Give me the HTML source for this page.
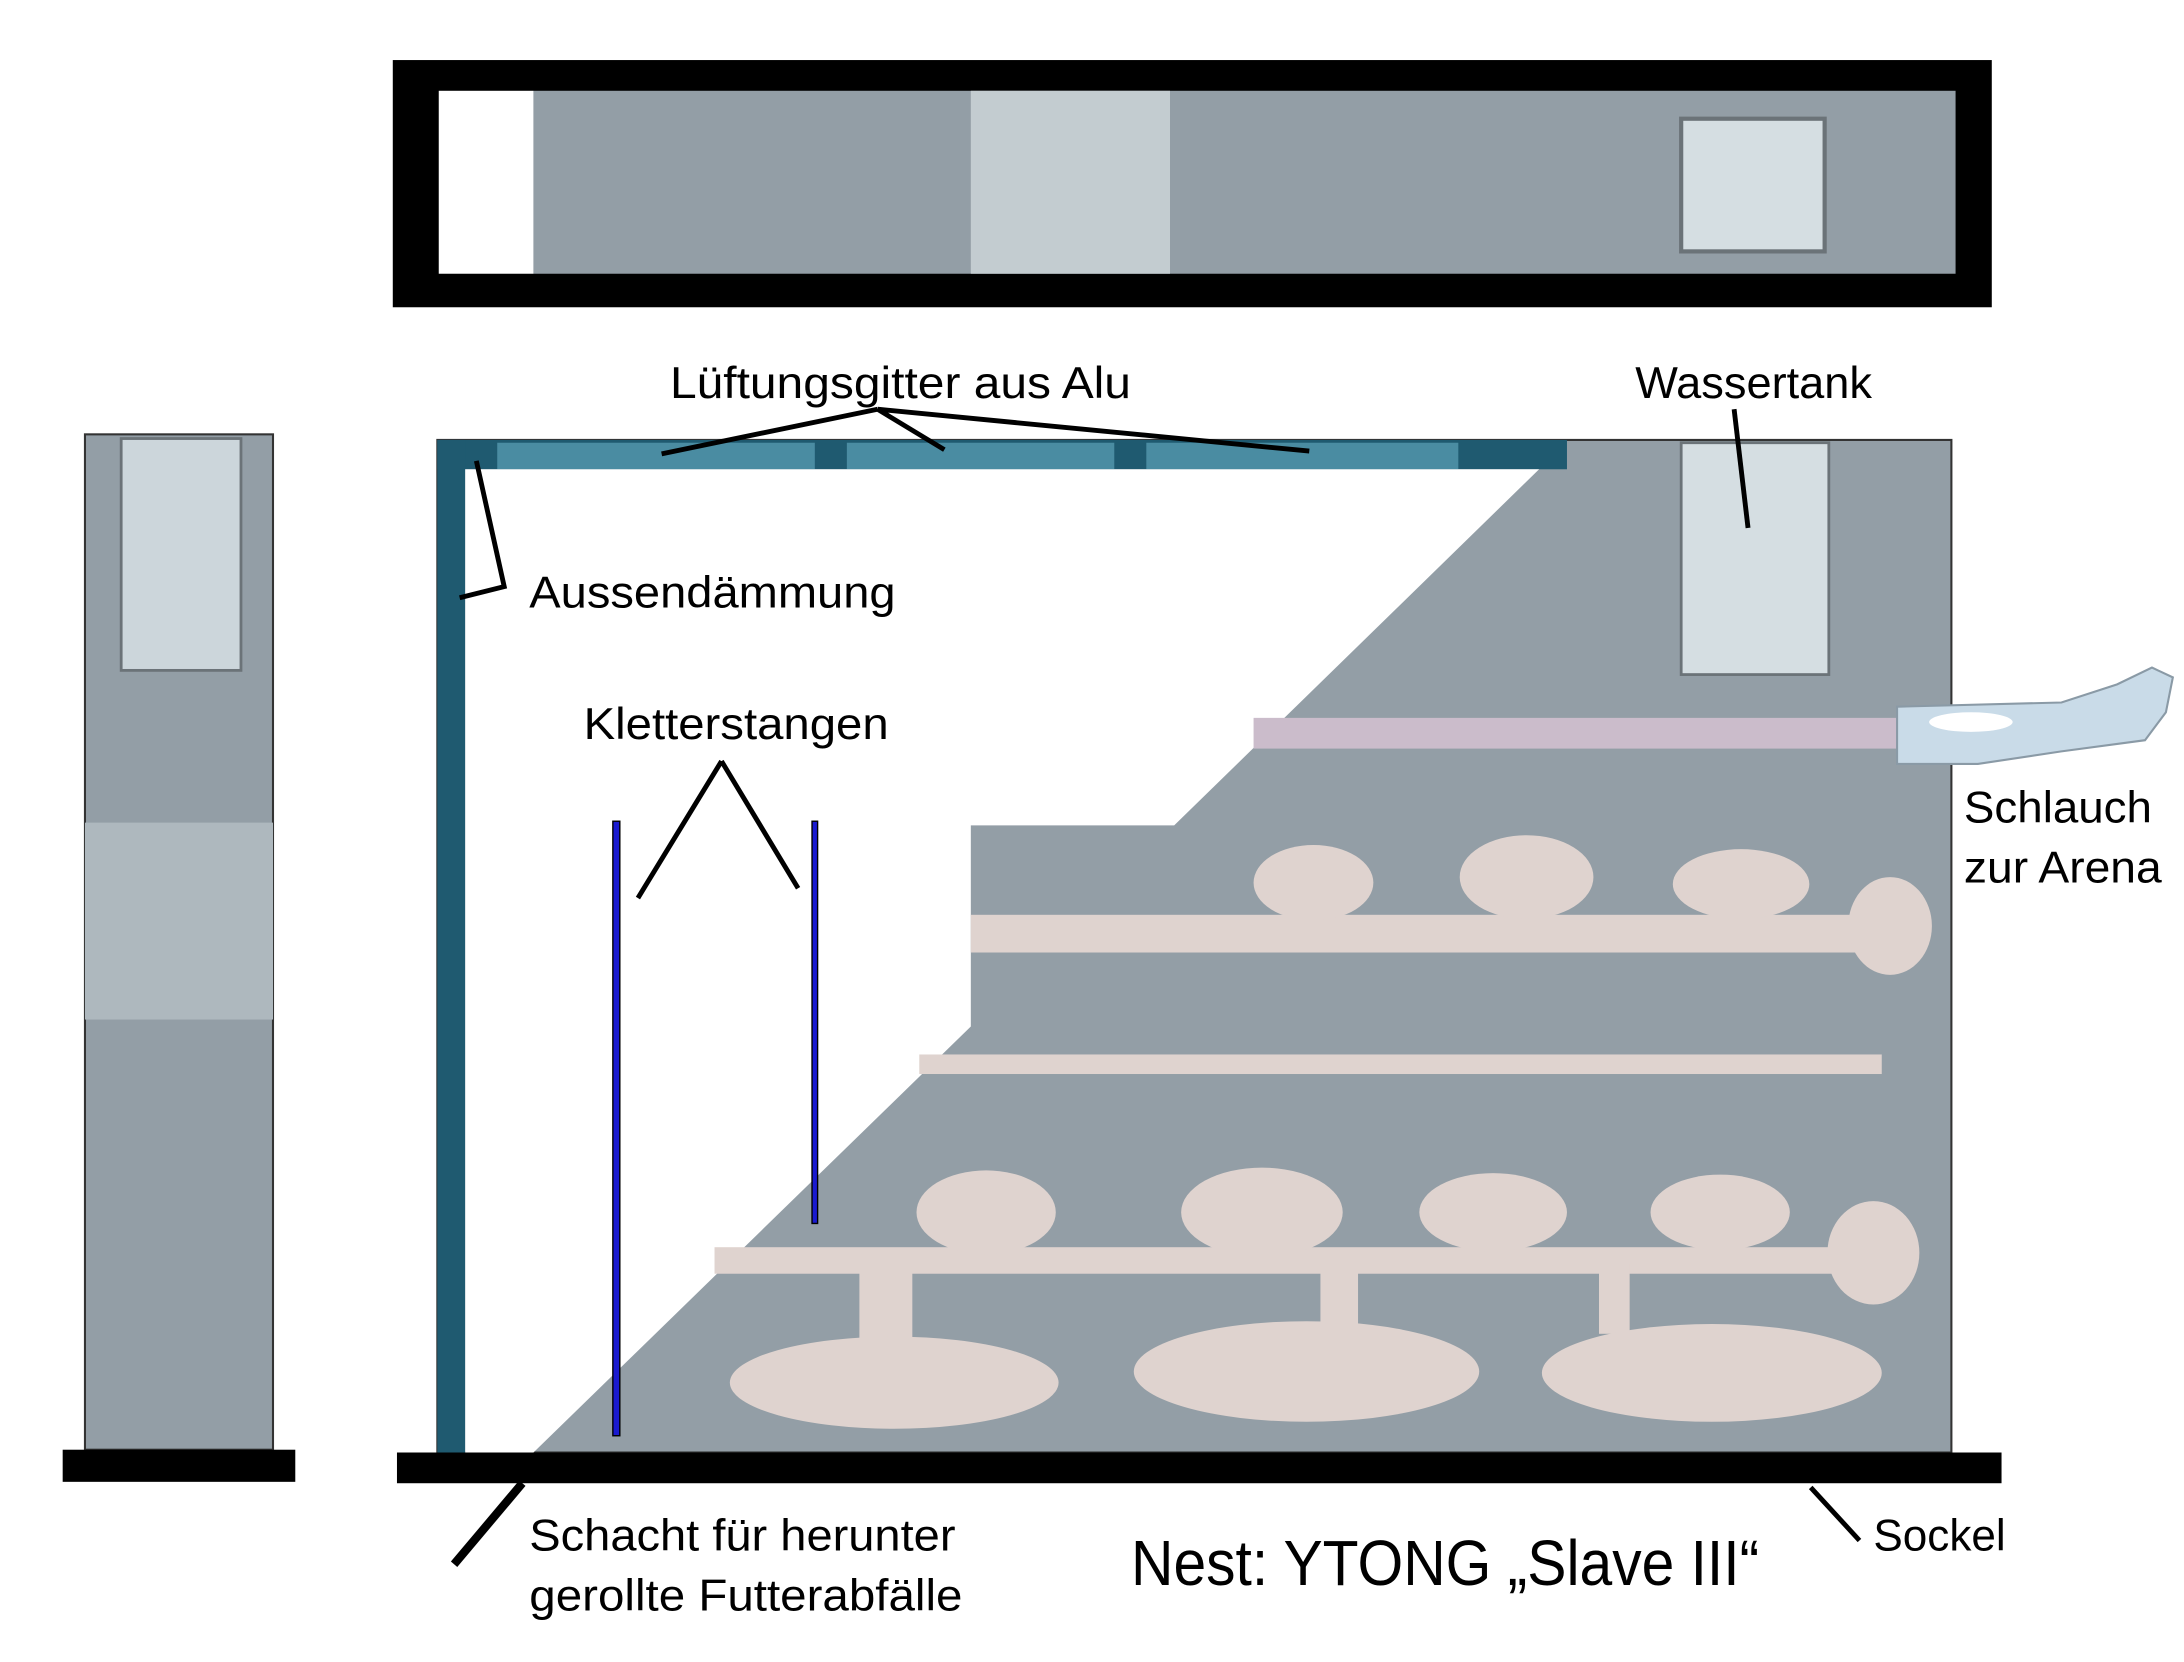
<!DOCTYPE html>
<html><head><meta charset="utf-8"><style>html,body{margin:0;padding:0;background:#fff}svg{display:block}</style></head><body>
<svg width="2184" height="1662" viewBox="0 0 1568 1190" preserveAspectRatio="none" xmlns="http://www.w3.org/2000/svg" font-family="'Liberation Sans', 'DejaVu Sans', sans-serif">
<!-- top view -->
<rect x="282" y="43" width="1148" height="177" fill="#000"/>
<rect x="315" y="65" width="68" height="131" fill="#fff"/>
<rect x="383" y="65" width="1021" height="131" fill="#939ea6"/>
<rect x="697" y="65" width="143" height="131" fill="#c3ccd0"/>
<rect x="1207" y="85" width="103" height="95" fill="#d5dee2" stroke="#6b7378" stroke-width="3"/>
<!-- side view -->
<rect x="61" y="311" width="135" height="727" fill="#939ea6" stroke="#333" stroke-width="1.5"/>
<rect x="61" y="589" width="135" height="141" fill="#aeb8be"/>
<rect x="87" y="314" width="86" height="166" fill="#ccd6db" stroke="#6b7378" stroke-width="2"/>
<rect x="45" y="1038" width="167" height="23" fill="#000"/>
<!-- main -->
<rect x="314" y="315" width="1087" height="725" fill="#939ea6" stroke="#333" stroke-width="1.5"/>
<rect x="314" y="315" width="811" height="21" fill="#1f5a70"/>
<rect x="314" y="315" width="20" height="725" fill="#1f5a70"/>
<rect x="357" y="317" width="228" height="19" fill="#4a8ca2"/>
<rect x="608" y="317" width="192" height="19" fill="#4a8ca2"/>
<rect x="823" y="317" width="224" height="19" fill="#4a8ca2"/>
<polygon points="334,336 1105,336 843,591 697,591 697,735 383,1040 334,1040" fill="#fff"/>
<rect x="1207" y="317" width="106" height="166" fill="#d5dee2" stroke="#6b7378" stroke-width="2"/>
<rect x="900" y="514" width="462" height="22" fill="#cbbccb"/>
<polygon points="1362,506 1480,503 1520,490 1545,478 1560,485 1555,510 1540,530 1480,538 1420,547 1362,547" fill="#c9dbe8" stroke="#8a9aa6" stroke-width="1.5"/>
<ellipse cx="1415" cy="517" rx="30" ry="7" fill="#fff"/>
<g fill="#dfd3cf">
<rect x="697" y="655" width="643" height="27"/>
<ellipse cx="943" cy="632" rx="43" ry="27"/>
<ellipse cx="1096" cy="628" rx="48" ry="30"/>
<ellipse cx="1250" cy="633" rx="49" ry="25"/>
<ellipse cx="1357" cy="663" rx="30" ry="35"/>
<rect x="660" y="755" width="691" height="14"/>
<rect x="513" y="893" width="817" height="19"/>
<ellipse cx="708" cy="868" rx="50" ry="30"/>
<ellipse cx="906" cy="868" rx="58" ry="32"/>
<ellipse cx="1072" cy="868" rx="53" ry="28"/>
<ellipse cx="1235" cy="868" rx="50" ry="27"/>
<ellipse cx="1345" cy="897" rx="33" ry="37"/>
<rect x="617" y="905" width="38" height="65"/>
<rect x="948" y="905" width="27" height="50"/>
<rect x="1148" y="905" width="22" height="50"/>
<ellipse cx="642" cy="990" rx="118" ry="33"/>
<ellipse cx="938" cy="982" rx="124" ry="36"/>
<ellipse cx="1229" cy="983" rx="122" ry="35"/>
</g>
<rect x="440" y="588" width="5" height="440" fill="#1a1ad0" stroke="#000" stroke-width="1"/>
<rect x="583" y="588" width="4" height="288" fill="#1a1ad0" stroke="#000" stroke-width="1"/>
<rect x="285" y="1040" width="1152" height="22" fill="#000"/>
<!-- lines -->
<g stroke="#000" stroke-width="3.5" fill="none">
<path d="M630,293 L475,325 M630,293 L678,322 M630,293 L940,323"/>
<path d="M1245,293 L1255,378"/>
<path d="M342,330 L362,420 L330,428"/>
<path d="M518,545 L458,643 M518,545 L573,636"/>
<path d="M1300,1065 L1335,1103"/>
</g>
<path d="M375,1062 L326,1120" stroke="#000" stroke-width="6"/>
<g fill="#000" font-size="32" lengthAdjust="spacingAndGlyphs">
<text x="481" y="285" textLength="331" lengthAdjust="spacingAndGlyphs">Lüftungsgitter aus Alu</text>
<text x="1174" y="285" textLength="170" lengthAdjust="spacingAndGlyphs">Wassertank</text>
<text x="380" y="435" textLength="263" lengthAdjust="spacingAndGlyphs">Aussendämmung</text>
<text x="419" y="529" textLength="219" lengthAdjust="spacingAndGlyphs">Kletterstangen</text>
<text x="1410" y="589" textLength="135" lengthAdjust="spacingAndGlyphs">Schlauch</text>
<text x="1410" y="632" textLength="142" lengthAdjust="spacingAndGlyphs">zur Arena</text>
<text x="380" y="1110" textLength="306" lengthAdjust="spacingAndGlyphs">Schacht für herunter</text>
<text x="380" y="1153" textLength="311" lengthAdjust="spacingAndGlyphs">gerollte Futterabfälle</text>
<text x="1345" y="1110" textLength="95" lengthAdjust="spacingAndGlyphs">Sockel</text>
<text x="812" y="1135" font-size="46" textLength="451" lengthAdjust="spacingAndGlyphs">Nest: YTONG „Slave III“</text>
</g>
</svg>
</body></html>
